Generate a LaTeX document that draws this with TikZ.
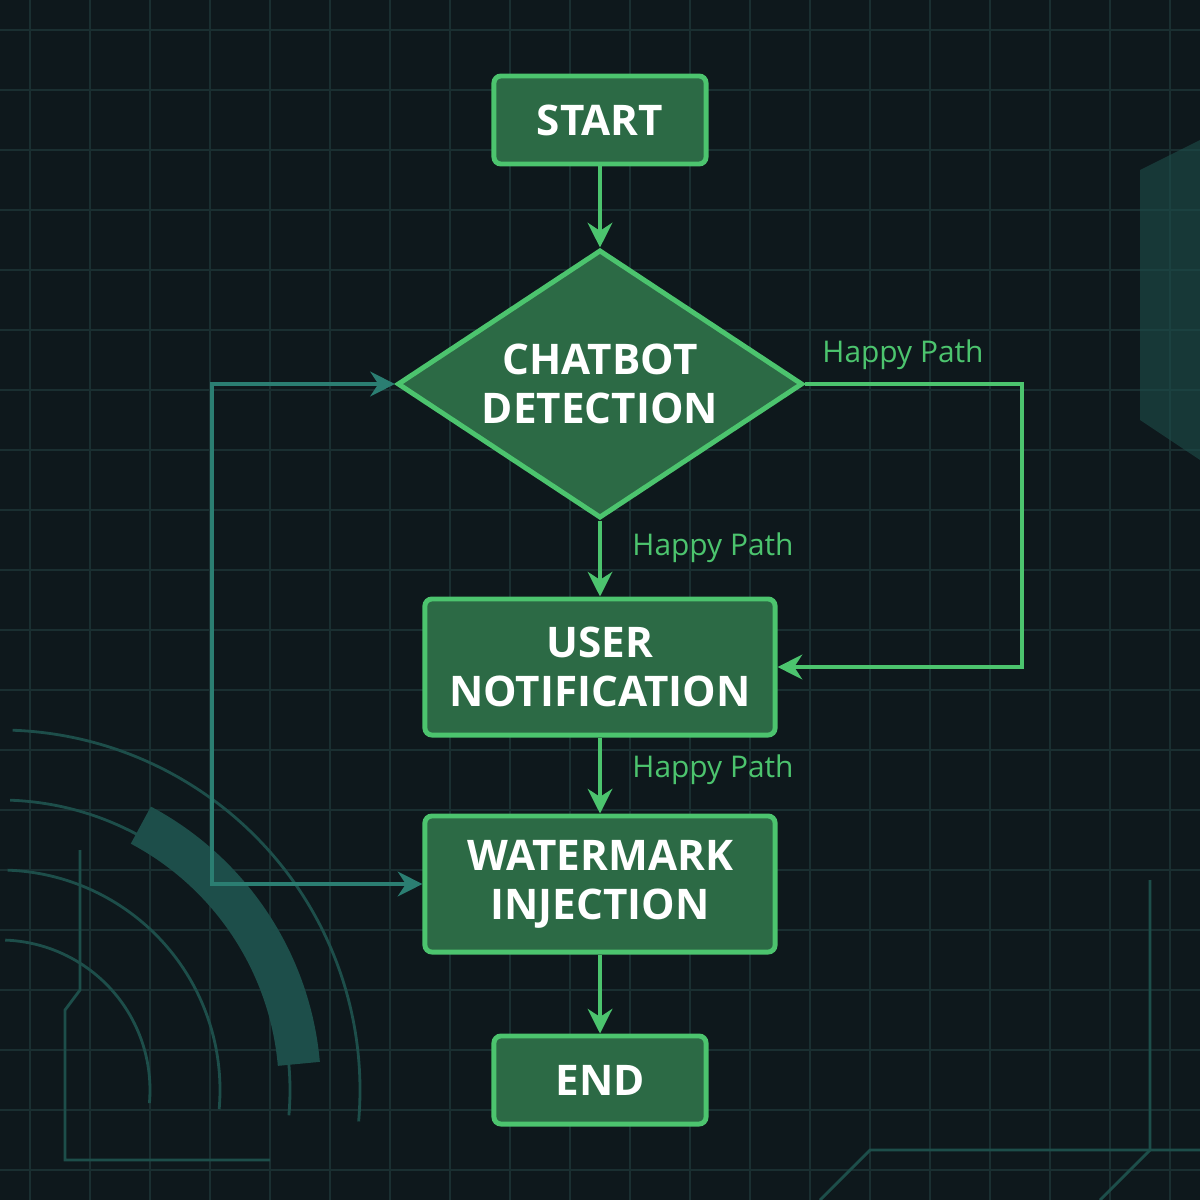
\documentclass[tikz,border=0pt]{standalone}
\usepackage{fontspec}
\setmainfont{Open Sans}
\usetikzlibrary{shapes.geometric}
\usetikzlibrary{arrows.meta}
\definecolor{bgdark}{HTML}{0E181C}
\definecolor{gridc}{HTML}{1A2F31}
\definecolor{boxfill}{HTML}{2C6A45}
\definecolor{boxline}{HTML}{4CC46E}
\definecolor{loopc}{HTML}{2B7E72}
\definecolor{decoc}{HTML}{1D4E4A}
\begin{document}
\begin{tikzpicture}
[x=0.01cm,y=-0.01cm,
 every node/.style={text=white,font=\fontsize{12}{14}\selectfont\bfseries,align=center},
 stepbox/.style={rectangle,rounded corners=2pt,draw=boxline,fill=boxfill,line width=1.4pt},
 decision/.style={diamond,aspect=1.5,draw=boxline,fill=boxfill,line width=1.4pt,inner sep=0pt,
   minimum width=4.05cm,minimum height=2.68cm},
 flow/.style={draw=boxline,line width=1.3pt,-{Stealth[length=7pt,width=7pt]}},
 loopline/.style={draw=loopc,line width=1.3pt,-{Stealth[length=7pt,width=7pt]}},
 pathlabel/.style={text=boxline,font=\fontsize{8.5}{10}\selectfont}]

% background and grid
\fill[bgdark] (0,0) rectangle (1200,1200);
\useasboundingbox (0,0) rectangle (1200,1200);
\foreach \g in {30,90,...,1200}{
  \draw[gridc,line width=0.5pt] (\g,0) -- (\g,1200);
  \draw[gridc,line width=0.5pt] (0,\g) -- (1200,\g);
}
% decoration
\foreach \r in {150,220,290,360}
  \draw[decoc,line width=0.8pt] (0,1090) ++(-88:\r) arc (-88:5:\r);
\draw[decoc,line width=12pt] (0,1090) ++(-62:300) arc (-62:-5:300);
\draw[decoc,line width=0.8pt] (80,850) -- (80,990) -- (65,1010) -- (65,1160) -- (270,1160);
\fill[decoc,opacity=0.6] (1140,170) -- (1200,140) -- (1200,460) -- (1140,420) -- cycle;
\draw[decoc,line width=0.8pt] (1150,880) -- (1150,1150) -- (1100,1200);
\draw[decoc,line width=0.8pt] (820,1200) -- (870,1150) -- (1200,1150);

% nodes
\node[stepbox,minimum width=2.12cm,minimum height=0.88cm] (start) at (600,120) {START};
\node[decision] (detect) at (600,384) {CHATBOT\\DETECTION};
\node[stepbox,minimum width=3.5cm,minimum height=1.36cm] (notify) at (600,667) {USER\\NOTIFICATION};
\node[stepbox,minimum width=3.5cm,minimum height=1.36cm] (inject) at (600,884) {WATERMARK\\INJECTION};
\node[stepbox,minimum width=2.12cm,minimum height=0.88cm] (end) at (600,1080) {END};

\coordinate (rtop) at (1022,384);
\coordinate (rbot) at (1022,667);
\coordinate (ltop) at (212,384);
\coordinate (lbot) at (212,884);

% connectors
\path[flow] (start) -- (detect);
\path[flow] (detect) -- (notify);
\path[flow] (notify) -- (inject);
\path[flow] (inject) -- (end);
\path[flow] (detect.east) -- (rtop) -- (rbot) -- (notify.east);
\path[loopline] (lbot) -- (ltop) -- (detect.west);
\path[loopline] (ltop) -- (lbot) -- (inject.west);

\node[pathlabel] at (903,355) {Happy Path};
\node[pathlabel] at (713,548) {Happy Path};
\node[pathlabel] at (713,770) {Happy Path};
\end{tikzpicture}
\end{document}
